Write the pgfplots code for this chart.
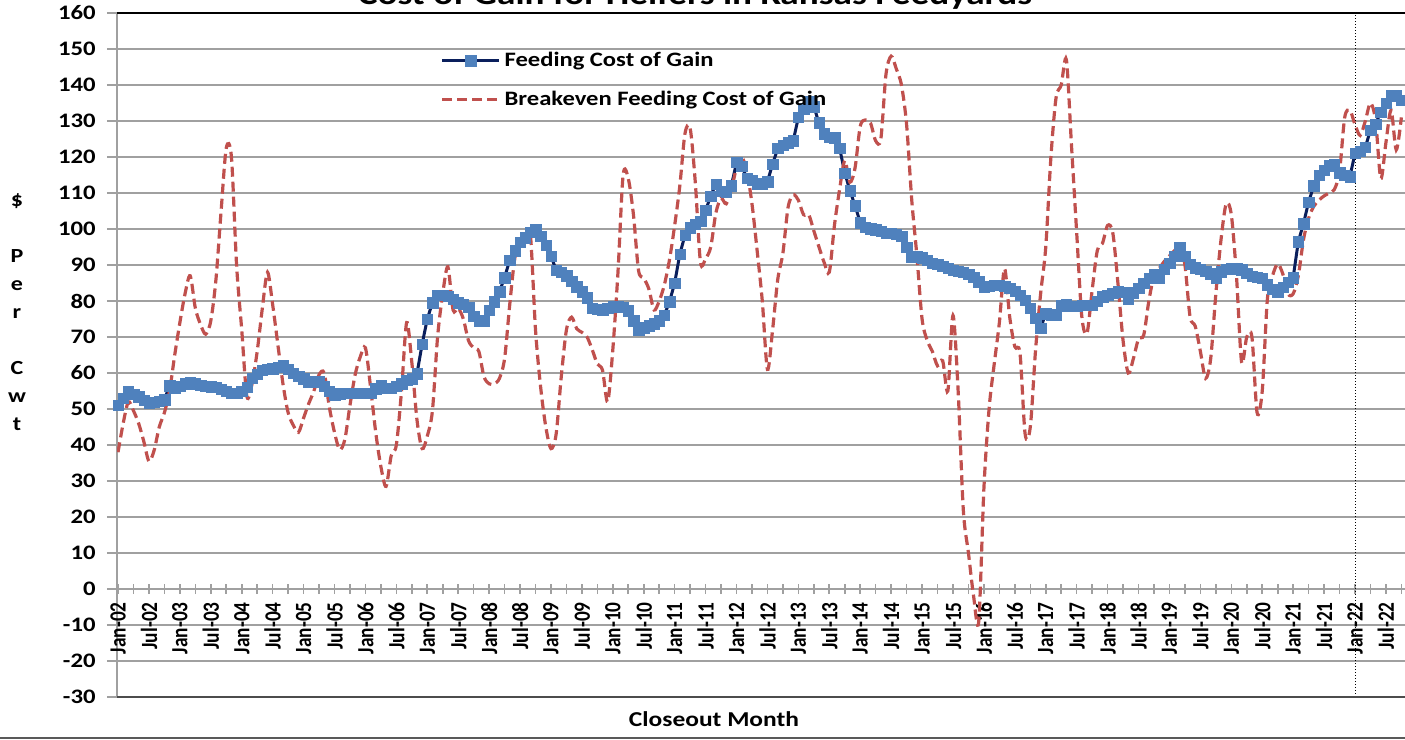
\documentclass[border=0pt]{standalone}
\usepackage{pgfplots}
\pgfplotsset{compat=1.18}
\usepackage{pgfplotstable}
\usepackage{fontspec}
\setmainfont{Carlito}[FakeStretch=1.2]
\newfontfamily\xtf{Carlito}[FakeStretch=0.833]
\definecolor{navy}{HTML}{0A1F5C}
\definecolor{mkblue}{HTML}{4F81BD}
\definecolor{bered}{HTML}{C0504D}
\definecolor{gridgray}{HTML}{A0A0A0}
\pgfplotstableread{
i fc be
0 51 38
1 53 46
2 54.8 52
3 54.2 49.5
4 53.4 46
5 52.5 41
6 51.6 35.5
7 51.9 38.5
8 52.2 45
9 52.6 49
10 56.5 55
11 55.9 65
12 56.4 74
13 57 82
14 57.5 87
15 57.1 78
16 56.6 73.5
17 56.4 70.8
18 56.2 74.5
19 56 86
20 55.6 105
21 54.9 122.5
22 54.4 120
23 54.4 90
24 55 72
25 56 53.5
26 58.6 57
27 59.7 66
28 60.8 78
29 61 88
30 61.2 79
31 61.6 68
32 62.1 57
33 61 49
34 60 45.5
35 59.1 43.5
36 58.4 47.5
37 57.6 51.5
38 57.6 55
39 57.6 59.5
40 56.4 60
41 54.9 50.5
42 53.9 43.5
43 54.3 38.7
44 54.4 41.5
45 54.4 51
46 54.4 59.5
47 54.4 64.5
48 54.4 67
49 54.4 56
50 55.7 43.5
51 56.7 34
52 55.8 28.5
53 55.8 37
54 56.3 40
55 57.1 55
56 58 74
57 58.4 63
58 59.8 47
59 68 39
60 75 42.5
61 79.5 49.5
62 81.7 70
63 81.7 82
64 81.4 89.5
65 80.5 77.5
66 79.6 78
67 79.1 75
68 78.3 69
69 75.8 67
70 74.6 66
71 74.5 59
72 77.4 57
73 79.8 57
74 82.6 58.5
75 86.5 64
76 91.4 79
77 94 92
78 96.3 95.5
79 97.6 96.7
80 99.1 98.5
81 99.9 72
82 98 56
83 95.5 45
84 92.5 39
85 88.6 43
86 88 59
87 87.1 72
88 85.5 75.5
89 84 72.3
90 82.6 71.3
91 80.9 70
92 78.1 66.5
93 77.7 62.5
94 77.5 60.8
95 78 52
96 78.4 66.5
97 78.4 88
98 78.3 115
99 77.3 114
100 74.5 104
101 72.1 88.4
102 72.6 86.4
103 73.2 83.3
104 73.7 77.5
105 74.5 80
106 76.1 84.5
107 79.8 91.5
108 85 101
109 93 112
110 98.3 126.5
111 100.4 128
112 101.4 113
113 102.2 90.8
114 105.2 91.8
115 109.2 95
116 112.5 104.5
117 110.6 108.5
118 110.2 107
119 112 111
120 118.5 117
121 117.5 120
122 114.2 116
123 113.5 107
124 112.6 94
125 112.4 80
126 113.2 61
127 118 72
128 122.4 86
129 123.3 93.3
130 124 106
131 124.5 109.5
132 131 108
133 133.4 104
134 135.4 104
135 134 99.5
136 129.5 95
137 126.5 90.7
138 125.6 88
139 125.4 101
140 122.5 111
141 115.6 119
142 110.7 113
143 106.5 117
144 101.8 128.5
145 100.5 130.3
146 100.1 129.4
147 99.8 124.5
148 99.4 125
149 98.9 143
150 98.9 148
151 98.5 144.5
152 98 140
153 95 129
154 92.3 108
155 92.3 92.5
156 92 75
157 91.3 69
158 90.6 66
159 90.2 62
160 89.7 63.4
161 89.2 55
162 88.6 76
163 88.3 55
164 88 22
165 87.4 10
166 86.7 -2
167 85.4 -9
168 84 28
169 84.2 50
170 84.4 62.5
171 84.4 74
172 84.2 89
173 83.5 75.6
174 82.7 67.3
175 81.7 65.5
176 80.2 43
177 78 45
178 75.3 66
179 72.5 82
180 76.5 95
181 76 120
182 76.2 136.5
183 78.7 140
184 79 147
185 78.5 123
186 78.6 99
187 78.9 75.6
188 78.9 71
189 78.9 83
190 80 94
191 81.2 96
192 81.7 101
193 82.2 99
194 82.7 85
195 82.5 69
196 80.5 60
197 82.3 64
198 83.6 69.5
199 84.9 70.5
200 86.3 80
201 87.5 87
202 86.4 89
203 88.8 91
204 90.6 92.5
205 92.5 94
206 94.8 95
207 92.5 90
208 90.2 75.6
209 89.3 73
210 88.8 66
211 88.3 58.5
212 87.6 64
213 86.5 82
214 88.2 97
215 88.8 107
216 89.1 104
217 89 87
218 88.7 63
219 87.8 70
220 86.9 70
221 86.6 49
222 86.3 55
223 84.6 80.5
224 83.3 87
225 82.6 90.3
226 83.9 87.5
227 85.2 82
228 86.5 82
229 96.5 87
230 101.5 97
231 107.5 103
232 112 106.3
233 115 108
234 116.4 109.2
235 117.6 110
236 118 111
237 115.7 116
238 115 131
239 114.5 133
240 121 129
241 121.7 126
242 122.7 130
243 127.5 135
244 129.2 130
245 132.5 114
246 135 124
247 137 133
248 137 122
249 135.8 131
}\data
\begin{document}
\begin{tikzpicture}
\useasboundingbox (0,0) rectangle (702.5pt,370pt);
\begin{axis}[
  at={(58.5pt,21.5pt)}, anchor=south west,
  scale only axis, width=644pt, height=342pt,
  xmin=-0.2, xmax=249.7, ymin=-30, ymax=160,
  axis x line*=middle, axis y line*=left,
  hide obscured x ticks=false, hide obscured y ticks=false,
  axis line style={gridgray, line width=0.9pt},
  ytick={-30,-20,...,160},
  yticklabels={-30,-20,-10,0,10,20,30,40,50,60,70,80,90,100,110,120,130,140,150,160},
  ymajorgrids, grid style={gridgray, line width=0.9pt},
  xtick={0,6,...,246},
  minor xtick={3,9,...,249},
  xticklabels={Jan-02,Jul-02,Jan-03,Jul-03,Jan-04,Jul-04,Jan-05,Jul-05,Jan-06,Jul-06,Jan-07,Jul-07,Jan-08,Jul-08,Jan-09,Jul-09,Jan-10,Jul-10,Jan-11,Jul-11,Jan-12,Jul-12,Jan-13,Jul-13,Jan-14,Jul-14,Jan-15,Jul-15,Jan-16,Jul-16,Jan-17,Jul-17,Jan-18,Jul-18,Jan-19,Jul-19,Jan-20,Jul-20,Jan-21,Jul-21,Jan-22,Jul-22},
  xtick align=center, ytick align=outside,
  major tick length=5pt, minor tick length=5pt,
  tick style={gridgray, line width=0.8pt},
  yticklabel style={font=\bfseries\fontsize{10.3}{12}\selectfont, xshift=-5.5pt, anchor=east, inner sep=0pt},
  xticklabel style={font=\xtf\bfseries\fontsize{11.6}{12}\selectfont, yshift=-4pt, rotate=90, anchor=east, inner sep=0pt},
  legend style={at={(0.2508,0.9598)}, anchor=north west, draw=none, fill=none,
    inner sep=0pt, row sep=0pt, column sep=2pt,
    nodes={inner sep=0pt, minimum height=19.5pt},
    font=\bfseries\fontsize{10.25}{12}\selectfont},
  legend cell align=left,
  legend image code/.code={\draw[mark repeat=2, mark phase=2, #1] plot coordinates {(0pt,0pt) (14.25pt,0pt) (28.5pt,0pt)};},
]
\addplot[color=navy, line width=1.5pt, mark=square*, mark size=2.6pt,
  mark options={fill=mkblue, draw=mkblue, solid, line width=0.1pt}] table[x=i, y=fc] {\data};
\addlegendentry{Feeding Cost of Gain}
\addplot[color=bered, line width=1.6pt, dash pattern=on 5pt off 2.5pt, smooth, no markers] table[x=i, y=be] {\data};
\addlegendentry{Breakeven Feeding Cost of Gain}
\draw[black, densely dotted, line width=0.5pt] (axis cs:240,-30) -- (axis cs:240,160);
\end{axis}
\draw[black, line width=1pt] (58.5pt,363.5pt) -- (702.5pt,363.5pt);
\draw[black!70, line width=1pt] (58.5pt,21.5pt) -- (702.5pt,21.5pt);
\draw[black!65, line width=1pt] (0,1pt) -- (702.5pt,1pt);
\node[anchor=base, font=\bfseries\fontsize{15.5}{18}\selectfont] at (347.5pt,367.5pt) {Cost of Gain for Heifers in Kansas Feedyards};
\node[anchor=base, font=\bfseries\fontsize{10.6}{12}\selectfont] at (357pt,6.5pt) {Closeout Month};
\node[align=center, font=\bfseries\fontsize{10}{14}\selectfont] at (8.5pt,213.75pt) {\$\\[14pt]P\\e\\r\\[14pt]C\\w\\t};
\end{tikzpicture}
\end{document}
